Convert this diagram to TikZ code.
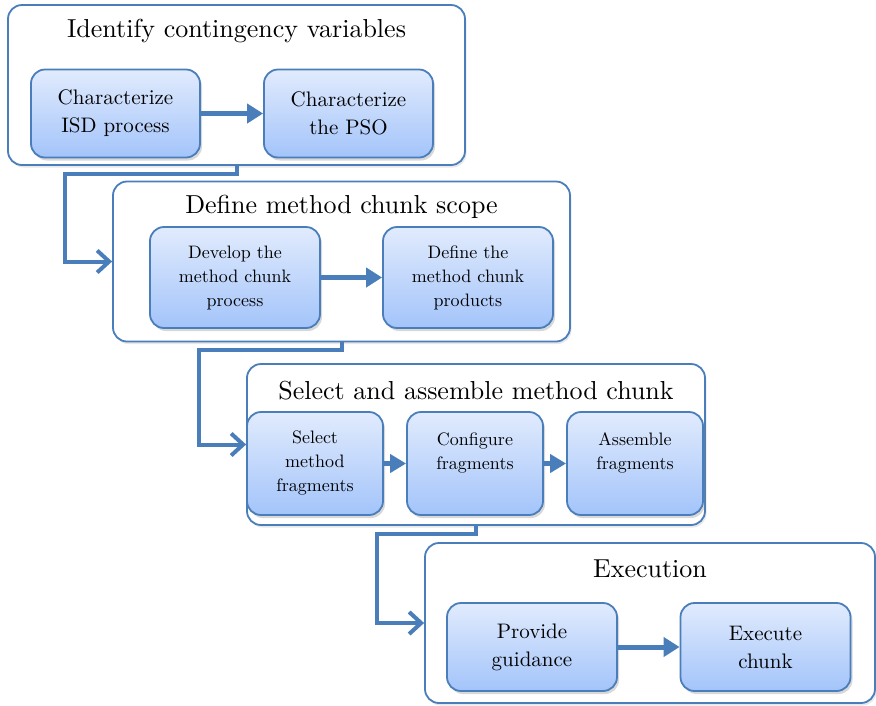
\documentclass[tikz,border=0pt]{standalone}
\usepackage{fontspec}
\setmainfont{lmroman10-regular}[Extension=.otf]
\usepackage{tikz}
\usetikzlibrary{positioning,arrows.meta,shadows,calc}
\usepackage{xcolor}
\definecolor{cBoxTop}{RGB}{225,235,253}
\definecolor{cBoxBot}{RGB}{163,196,250}
\definecolor{eBlue}{RGB}{74,126,187}
\tikzset{
  phase/.style  ={draw=eBlue,rounded corners=14pt,line width=1.8pt,fill=white,
                  drop shadow={shadow xshift=1.5pt,shadow yshift=-2.5pt,opacity=.18}},
  ptitle/.style ={font=\fontsize{26}{31}\selectfont,inner sep=0pt},
  task/.style   ={draw=eBlue,rounded corners=14pt,line width=1.8pt,align=center,
                  top color=cBoxTop,bottom color=cBoxBot,
                  font=\fontsize{21}{28}\selectfont,
                  drop shadow={shadow xshift=2pt,shadow yshift=-3pt,opacity=.3}},
  tasksm/.style ={task,font=\fontsize{18}{24}\selectfont},
  next/.style   ={-{Triangle[length=16pt,width=19pt]},draw=eBlue,line width=5pt},
  flow/.style   ={-{Straight Barb[length=12pt,width=22pt,line width=4pt]},draw=eBlue,
                  line width=4pt},
}

\begin{document}
\begin{tikzpicture}[x=1pt,y=-1pt]
\useasboundingbox (0,0) rectangle (876,705);

% phase 1
\node[phase,minimum width=457pt,minimum height=160pt] (p1) at (236.5,85) {};
\node[ptitle] (t1) at ([yshift=-27pt]p1.north) {Identify contingency variables};
\node[task,minimum width=169pt,minimum height=88pt] (isd) at (115.5,113.5)
 {Characterize\\ISD process};
\node[task,minimum width=169pt,minimum height=88pt] (pso) at (348.5,113.5)
 {Characterize\\the PSO};
\draw[next] (isd.east) -- (pso.west);

% phase 2
\node[phase,minimum width=457pt,minimum height=160pt] (p2) at (341.5,261.5) {};
\node[ptitle] (t2) at ([yshift=-26pt]p2.north) {Define method chunk scope};
\node[tasksm,minimum width=170pt,minimum height=101pt] (dev) at (235,277.5)
 {Develop the\\method chunk\\process};
\node[tasksm,minimum width=170pt,minimum height=101pt] (prod) at (468,277.5)
 {Define the\\method chunk\\products};
\draw[next] (dev.east) -- (prod.west);

% phase 3
\node[phase,minimum width=458pt,minimum height=161pt] (p3) at (476,444.5) {};
\node[ptitle] (t3) at ([yshift=-28pt]p3.north) {Select and assemble method chunk};
\node[tasksm,minimum width=136pt,minimum height=103pt] (sel) at (315,463.5)
 {Select\\method\\fragments};
\node[tasksm,minimum width=136pt,minimum height=103pt] (conf) at (475,463.5)
 {Configure\\fragments\\~};
\node[tasksm,minimum width=136pt,minimum height=103pt] (asm) at (635,463.5)
 {Assemble\\fragments\\~};
\draw[next,-{Triangle[length=16pt,width=18pt]}] (sel.east) -- (conf.west);
\draw[next,-{Triangle[length=16pt,width=18pt]}] (conf.east) -- (asm.west);

% phase 4
\node[phase,minimum width=450pt,minimum height=160pt] (p4) at (650,623) {};
\node[ptitle] (t4) at ([yshift=-27pt]p4.north) {Execution};
\node[task,minimum width=170pt,minimum height=88pt] (guide) at (532,647)
 {Provide\\guidance};
\node[task,minimum width=170pt,minimum height=88pt] (exec) at (765.5,647)
 {Execute\\chunk};
\draw[next] (guide.east) -- (exec.west);

% hand-over between phases
\draw[flow] (p1.south) -- ++(0,8) -| ([xshift=-47pt]p2.west) -- (p2.west);
\draw[flow] (p2.south) -- ++(0,8) -| ([xshift=-47pt]p3.west) -- (p3.west);
\draw[flow] (p3.south) -- ++(0,8) -| ([xshift=-47pt]p4.west) -- (p4.west);

\end{tikzpicture}
\end{document}
